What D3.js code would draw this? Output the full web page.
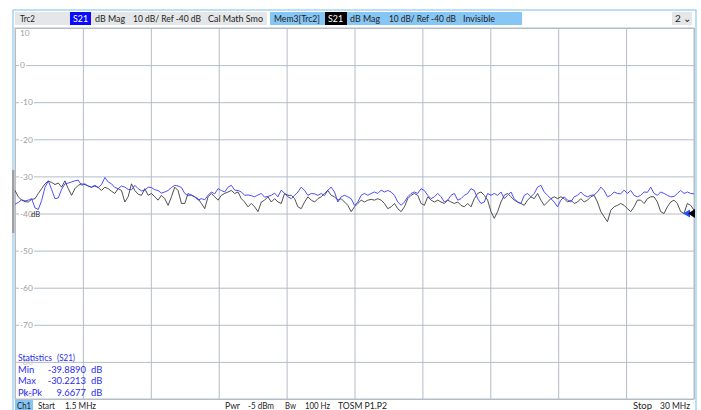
<!DOCTYPE html>
<html>
<head>
<meta charset="utf-8">
<script src="https://cdn.jsdelivr.net/npm/d3@7"></script>
<style>
  body { margin: 0; background: #fff; }
  svg { display: block; font-family: Lato, "Noto Sans", sans-serif; }
</style>
</head>
<body>
<svg id="chart" width="701" height="410"></svg>
<script>
// sweep
const startMHz = 1.5;
const stopMHz = 30;

// y grid labels (dB)
const yTicks = [10, 0, -10, -20, -30, -40, -50, -60, -70, -80, -90];

// Trc2 S21 (blue), dB
const trc2 = [
  -37.5,-37.0,-36.3,-36.6,-36.4,-36.0,-38.5,-38.9,-36.5,-33.0,-31.2,-33.5,-36.0,-35.8,-33.5,-32.0,-31.8,-31.5,-31.2,-31.0,
  -32.4,-32.0,-32.6,-32.9,-32.4,-33.0,-32.2,-30.3,-31.5,-32.0,-33.0,-33.3,-32.6,-32.9,-33.5,-33.6,-32.4,-33.3,-33.9,-33.7,
  -32.9,-33.0,-33.6,-33.8,-34.5,-34.2,-33.8,-33.0,-32.4,-32.6,-33.0,
  -34.6,-35.2,-35.0,-35.5,-36.4,-36.0,-36.3,-35.1,-34.2,-34.7,-33.3,-33.8,-34.2,-32.9,-32.4,-33.7,-33.8,-34.2,-35.1,-35.0,
  -35.2,-35.5,-35.0,-34.6,-35.6,-35.4,-35.1,-34.5,-35.5,-33.7,-34.6,-35.5,-36.0,-35.1,-34.2,-32.9,-33.8,-35.1,-34.6,-34.7,
  -35.1,-34.6,-35.2,-33.7,-32.9,-34.2,-36.9,-35.5,-35.1,-35.5,-36.0,
  -37.8,-36.9,-35.1,-34.6,-35.1,-34.6,-34.2,-34.6,-33.7,-34.2,-33.8,-34.2,-35.1,-36.9,-37.8,-36.9,-35.5,-34.6,-34.2,-34.6,
  -33.3,-33.8,-35.1,-36.0,-35.5,-34.6,-35.5,-36.9,-36.4,-35.1,-34.6,-36.4,-36.0,-35.1,-34.6,-33.3,-33.8,-36.0,-37.3,-36.9,
  -34.6,-35.1,-34.6,-35.1,-34.2,-36.0,-35.1,-34.2,-36.0,-36.9,-37.3,
  -35.1,-34.6,-35.5,-34.6,-32.9,-32.4,-34.2,-35.1,-36.0,-36.9,-38.2,-36.4,-35.5,-36.4,-36.9,-35.5,-35.1,-34.2,-35.1,-35.5,
  -35.1,-35.0,-34.2,-32.9,-33.8,-35.5,-35.1,-34.2,-34.6,-34.7,-33.7,-34.6,-33.8,-35.1,-35.5,-35.1,-34.2,-34.3,-32.9,-34.6,
  -35.1,-34.2,-34.6,-35.1,-35.5,-35.4,-34.6,-33.8,-34.6,-34.2,-34.6,-34.7
];

// Mem3[Trc2] S21 (dark), dB
const mem3 = [
  -33.8,-35.5,-36.4,-36.8,-36.9,-36.2,-36.0,-34.6,-33.3,-32.0,-31.3,-31.6,-32.2,-31.8,-32.9,-31.2,-33.3,-35.1,-33.3,-32.4,
  -32.0,-32.2,-32.6,-32.9,-32.6,-33.0,-33.8,-32.9,-33.3,-34.0,-34.6,-33.3,-33.8,-36.9,-35.5,-32.0,-33.8,-34.8,-35.1,-33.3,
  -35.1,-34.6,-35.5,-36.4,-35.1,-36.0,-37.8,-35.5,-32.9,-33.8,-37.3,
  -37.3,-34.6,-35.1,-35.5,-36.0,-37.3,-38.7,-35.5,-34.6,-35.5,-36.4,-35.1,-34.6,-34.2,-33.8,-34.6,-34.2,-36.0,-36.9,-38.2,
  -37.3,-38.2,-39.5,-36.9,-36.4,-35.5,-36.9,-36.0,-36.9,-37.3,-34.6,-35.1,-35.1,-36.0,-38.2,-38.7,-36.9,-35.5,-36.4,-36.9,
  -36.0,-35.5,-34.6,-33.8,-35.1,-35.5,-36.4,-36.0,-36.9,-37.8,-39.5,
  -38.2,-37.3,-36.4,-36.9,-36.4,-36.2,-36.4,-36.0,-36.4,-37.3,-38.7,-38.2,-37.3,-38.7,-39.5,-38.2,-36.0,-35.1,-34.6,-35.1,
  -37.3,-37.8,-35.5,-36.4,-36.9,-36.4,-36.9,-37.3,-36.4,-36.9,-37.3,-36.9,-37.8,-38.2,-37.3,-38.2,-36.0,-34.6,-34.2,-35.1,
  -36.4,-39.5,-41.3,-39.5,-36.9,-35.1,-34.6,-35.5,-36.4,-36.9,-37.3,
  -37.8,-36.4,-35.5,-36.0,-34.6,-36.4,-37.8,-36.9,-36.0,-35.5,-36.0,-35.5,-36.0,-36.9,-36.4,-37.3,-36.9,-36.0,-36.9,-36.4,
  -35.5,-35.1,-36.9,-39.5,-40.9,-42.2,-39.1,-38.2,-37.8,-37.3,-37.8,-38.7,-39.5,-38.2,-36.4,-36.4,-37.3,-36.0,-35.5,-35.5,
  -36.9,-39.5,-40.0,-38.2,-36.9,-36.4,-37.3,-39.5,-40.0,-37.3,-37.8,-39.1
];

// statistics (S21)
const statNames = ["Min", "Max", "Pk-Pk"];
const statValues = ["-39.8890", "-30.2213", "9.6677"];

const svg = d3.select("#chart");
const pLeft = 15, pRight = 694, pTop = 28, pBottom = 399;

const step = (stopMHz - startMHz) / (trc2.length - 1);
const freqs = trc2.map((d, i) => startMHz + i * step);

const x = d3.scaleLinear().domain([startMHz, stopMHz]).range([pLeft, pRight]);
const y = d3.scaleLinear().domain([10, -90]).range([pTop, pBottom]);

const gridColor = "#b4bcc6";

// squeeze a text to a given width (Segoe-like narrow look)
function fit(sel) {
  sel.each(function(d) {
    if (d.w) d3.select(this).attr("textLength", d.w).attr("lengthAdjust", "spacingAndGlyphs");
  });
}

// outer frame
svg.append("rect").attr("x", 13).attr("y", 10).attr("width", 683).attr("height", 402)
  .attr("fill", "none").attr("stroke", "#8cc8f0").attr("stroke-width", 1.2);
svg.append("rect").attr("x", 12).attr("y", 170).attr("width", 2.5).attr("height", 63).attr("fill", "#a0a0a0");

// header
const header = svg.append("g").attr("font-size", 10).attr("fill", "#222");
header.append("rect").attr("x", 15).attr("y", 12).attr("width", 252).attr("height", 13).attr("fill", "#e4e6e8");
header.append("rect").attr("x", 70).attr("y", 12).attr("width", 21).attr("height", 13).attr("fill", "#0a0aff");
header.append("rect").attr("x", 270).attr("y", 12).attr("width", 252).attr("height", 13).attr("fill", "#86c6f5");
header.append("rect").attr("x", 325).attr("y", 12).attr("width", 22).attr("height", 13).attr("fill", "#000");
header.append("rect").attr("x", 672).attr("y", 12).attr("width", 20).attr("height", 13).attr("fill", "#e4e6e8");
const hText = [
  { x: 20, t: "Trc2", w: 15 }, { x: 73, t: "S21", c: "#fff", w: 15 }, { x: 95, t: "dB Mag", w: 30 },
  { x: 133, t: "10 dB/ Ref -40 dB", w: 68 }, { x: 208, t: "Cal Math Smo", w: 55 },
  { x: 274, t: "Mem3[Trc2]", w: 46 }, { x: 328, t: "S21", c: "#fff", w: 15 },
  { x: 350, t: "dB Mag", w: 30 }, { x: 389, t: "10 dB/ Ref -40 dB", w: 67 }, { x: 463, t: "Invisible", w: 32 },
  { x: 675, t: "2 \u2304" }
];
header.selectAll("text").data(hText).join("text")
  .attr("x", d => d.x).attr("y", 22).attr("fill", d => d.c || "#222").text(d => d.t).call(fit);

// grid
svg.append("g")
  .attr("transform", `translate(0,${pBottom})`)
  .call(d3.axisBottom(x).tickValues(d3.range(11).map(i => startMHz + i * (stopMHz - startMHz) / 10))
    .tickSize(-(pBottom - pTop)).tickFormat(""))
  .call(g => g.select(".domain").remove())
  .selectAll("line").attr("stroke", gridColor);
svg.append("g")
  .attr("transform", `translate(${pLeft},0)`)
  .call(d3.axisLeft(y).tickValues(yTicks).tickSize(-(pRight - pLeft)).tickFormat(""))
  .call(g => g.select(".domain").remove())
  .selectAll("line").attr("stroke", gridColor);
svg.append("rect").attr("x", pLeft).attr("y", pTop).attr("width", pRight - pLeft).attr("height", pBottom - pTop)
  .attr("fill", "none").attr("stroke", gridColor);

// y labels inside the plot
const yLab = svg.append("g").attr("transform", `translate(${pLeft},0)`)
  .call(d3.axisRight(y).tickValues(yTicks).tickSize(0).tickPadding(5).tickFormat(d => d))
  .call(g => g.select(".domain").remove());
yLab.selectAll("text").attr("fill", "#9e9e9e").attr("font-size", 8.4)
  .attr("font-family", "Lato, sans-serif")
  .attr("dy", d => d === 10 ? "0.95em" : d === -90 ? "-0.35em" : "0.32em");
yLab.selectAll(".tick").each(function(d) {
  if (d === 10 || d <= -80) return;
  const b = this.querySelector("text").getBBox();
  d3.select(this).insert("rect", "text").attr("x", b.x - 1).attr("y", b.y + 1)
    .attr("width", b.width + 2).attr("height", b.height - 2).attr("fill", "#fff");
});
// -80 / -90 sit faintly behind the statistics box
yLab.selectAll(".tick text").filter(d => d <= -80).attr("fill", "#c4c4c4");

// traces
const line = d3.line().x((d, i) => x(freqs[i])).y(d => y(d));
svg.append("path").datum(mem3).attr("d", line).attr("fill", "none")
  .attr("stroke", "#3c3c3c").attr("stroke-width", 0.9);
svg.append("path").datum(trc2).attr("d", line).attr("fill", "none")
  .attr("stroke", "#3a3aff").attr("stroke-width", 0.9);

// reference markers at -40 dB
const refY = y(-40);
svg.append("text").attr("x", 31).attr("y", refY + 3).attr("font-size", 7.5).attr("fill", "#333").text("dB");
svg.append("path").attr("d", `M${x(stopMHz) - 11},${refY} l7,-4 v8 z`).attr("fill", "#1e50ff");
svg.append("path").attr("d", `M${x(stopMHz) - 6},${refY} l7,-4.5 v9 z`).attr("fill", "#000");

// statistics
const statRows = [{ x: 18, y: 361, t: "Statistics", w: 34 }, { x: 57, y: 361, t: "(S21)", w: 18 }];
statNames.forEach((n, i) => {
  const yy = 372.5 + i * 11.6;
  statRows.push({ x: 18, y: yy, t: n });
  statRows.push({ x: 86, y: yy, t: statValues[i], a: "end" });
  statRows.push({ x: 91, y: yy, t: "dB" });
});
svg.append("g").attr("font-size", 9.4).attr("fill", "#2c2cf0")
  .selectAll("text").data(statRows).join("text")
  .attr("x", d => d.x).attr("y", d => d.y).attr("text-anchor", d => d.a || "start")
  .text(d => d.t).call(fit);

// bottom bar
const foot = svg.append("g").attr("font-size", 10).attr("fill", "#222");
foot.append("rect").attr("x", 15).attr("y", 400).attr("width", 18).attr("height", 10).attr("fill", "#86c6f5");
const fText = [
  { x: 17, t: "Ch1", w: 14 }, { x: 38, t: "Start", w: 17 }, { x: 65, t: "1.5 MHz", w: 31 },
  { x: 225, t: "Pwr", w: 15 }, { x: 248, t: "-5 dBm", w: 26 }, { x: 285, t: "Bw", w: 11 },
  { x: 305, t: "100 Hz", w: 25 }, { x: 338, t: "TOSM P1.P2", w: 49 },
  { x: 633, t: "Stop", w: 19 }, { x: 660, t: "30 MHz", w: 30 }
];
foot.selectAll("text.f").data(fText).join("text").attr("class", "f")
  .attr("x", d => d.x).attr("y", 408.5).text(d => d.t).call(fit);
</script>
</body>
</html>
